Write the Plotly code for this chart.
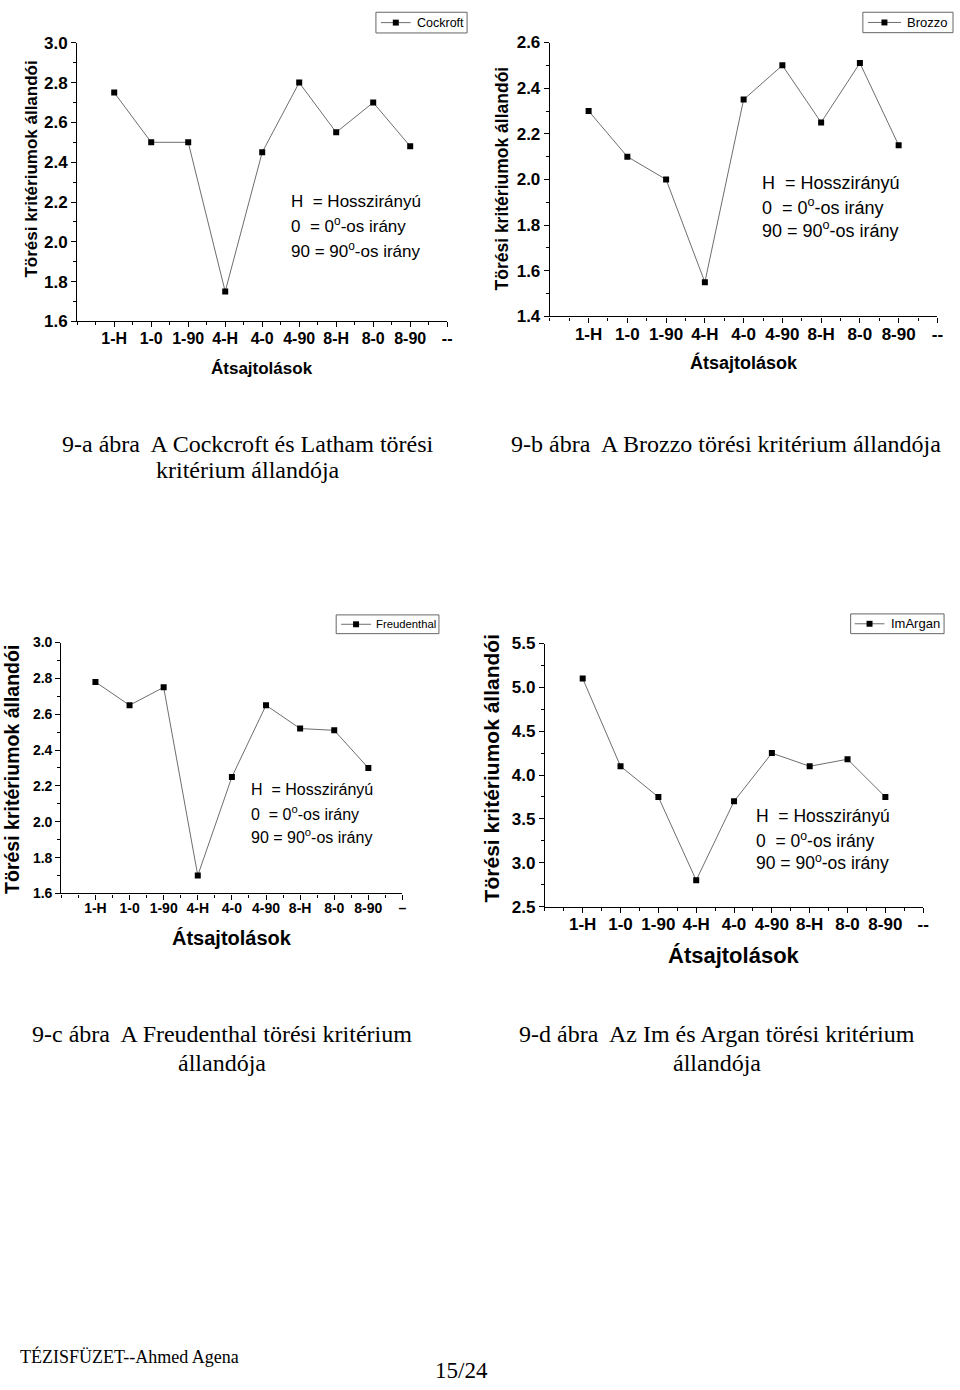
import plotly.graph_objects as go

# ---------------- data ----------------
categories = ["1-H", "1-0", "1-90", "4-H", "4-0", "4-90", "8-H", "8-0", "8-90"]
cockroft = [2.75, 2.50, 2.50, 1.75, 2.45, 2.80, 2.55, 2.70, 2.48]
brozzo = [2.30, 2.10, 2.00, 1.55, 2.35, 2.50, 2.25, 2.51, 2.15]
freudenthal = [2.78, 2.65, 2.75, 1.70, 2.25, 2.65, 2.52, 2.51, 2.30]
imargan = [5.10, 4.10, 3.75, 2.80, 3.70, 4.25, 4.10, 4.18, 3.75]
tick_labels_abd = categories + ["--"]
tick_labels_c = categories + ["–"]

W, H = 960, 1390
fig = go.Figure()

def px_x(p):
    return p / W

def px_y(p):
    return 1 - p / H

LINE_COLOR = "#6e6e6e"

panels = [
    dict(name="Cockroft", vals=cockroft, tl=tick_labels_abd, yr=[1.6, 3.0], dy=0.2, mdy=0.1,
         box=(77.7, 450, 34.3, 316.7), tf=17, xf=16, yts=17, xts=17, ytitx=32, ytity=162, xtity=364,
         leg=dict(box=(378.3, 470, 3.3, 24.3), line=(383.3, 413.3), sq=398.3, tx=417.7, fs=12.5),
         ann=(290.7, [195, 219, 244]), af=17),
    dict(name="Brozzo", vals=brozzo, tl=tick_labels_abd, yr=[1.4, 2.6], dy=0.2, mdy=0.1,
         box=(553.3, 943.3, 34, 311.7), tf=17, xf=17, yts=17.5, xts=18, ytitx=505, ytity=172, xtity=358,
         leg=dict(box=(868.3, 959, 3.3, 24), line=(873.3, 906.7), sq=890, tx=910.7, fs=13),
         ann=(764.3, [176, 200, 224]), af=18),
    dict(name="Freudenthal", vals=freudenthal, tl=tick_labels_c, yr=[1.6, 3.0], dy=0.2, mdy=0.1,
         box=(61.7, 405, 642.3, 896.7), tf=14, xf=14, yts=19.5, xts=20, ytitx=12.5, ytity=771, xtity=942,
         leg=dict(box=(338.3, 441.7, 614.3, 633.3), line=(343.3, 373.3), sq=358.3, tx=376.7, fs=11.3),
         ann=(251, [791.5, 815.5, 838]), af=16),
    dict(name="ImArgan", vals=imargan, tl=tick_labels_abd, yr=[2.5, 5.5], dy=0.5, mdy=0.25,
         box=(548.3, 929, 643.3, 910), tf=17, xf=17, yts=21, xts=22, ytitx=495, ytity=770, xtity=960,
         leg=dict(box=(856, 950, 613.3, 633.3), line=(860, 890), sq=875, tx=895, fs=13),
         ann=(759, [818, 842.7, 865.3]), af=17.5),
]

annotations = []
shapes = []
layout_axes = {}
ann_lines = ["H  = Hosszirányú", "0  = 0<sup>o</sup>-os irány", "90 = 90<sup>o</sup>-os irány"]

for i, p in enumerate(panels, start=1):
    xa = "x" if i == 1 else f"x{i}"
    ya = "y" if i == 1 else f"y{i}"
    x0, x1, yt, yb = p["box"]
    xpos = list(range(1, len(p["vals"]) + 1))
    fig.add_trace(go.Scatter(
        x=xpos, y=p["vals"], name=p["name"], mode="lines+markers",
        line=dict(color=LINE_COLOR, width=1),
        marker=dict(symbol="square", size=6, color="black"),
        xaxis=xa, yaxis=ya, showlegend=False,
    ))
    axis_common = dict(showline=True, linecolor="black", linewidth=1.2, ticks="outside",
                       tickcolor="black", showgrid=False, zeroline=False, ticklen=5, tickwidth=1)
    layout_axes["xaxis" if i == 1 else f"xaxis{i}"] = dict(
        domain=[px_x(x0), px_x(x1)], anchor=ya, range=[0, len(p["tl"])],
        tickmode="array", tickvals=list(range(1, len(p["tl"]) + 1)), ticktext=p["tl"],
        tickfont=dict(family="Liberation Sans", size=p["xf"], color="black", weight="bold"),
        ticklabelstandoff=-3,
        minor=dict(ticks="outside", ticklen=3, tickcolor="black", dtick=0.5, tick0=0),
        **axis_common)
    layout_axes["yaxis" if i == 1 else f"yaxis{i}"] = dict(
        domain=[px_y(yb), px_y(yt)], anchor=xa, range=p["yr"],
        tickmode="linear", tick0=p["yr"][0], dtick=p["dy"], tickformat=".1f",
        tickfont=dict(family="Liberation Sans", size=p["tf"], color="black", weight="bold"),
        minor=dict(ticks="outside", ticklen=3, tickcolor="black", dtick=p["mdy"], tick0=p["yr"][0]),
        **axis_common)

    # legend box drawn as a small framed key
    lg = p["leg"]
    bx0, bx1, by0, by1 = lg["box"]
    cy = (by0 + by1) / 2
    shapes.append(dict(type="rect", xref="paper", yref="paper",
                       x0=px_x(bx0), x1=px_x(bx1), y0=px_y(by1), y1=px_y(by0),
                       line=dict(color="#666", width=1), fillcolor="white"))
    shapes.append(dict(type="line", xref="paper", yref="paper",
                       x0=px_x(lg["line"][0]), x1=px_x(lg["line"][1]), y0=px_y(cy), y1=px_y(cy),
                       line=dict(color=LINE_COLOR, width=1)))
    shapes.append(dict(type="rect", xref="paper", yref="paper",
                       x0=px_x(lg["sq"] - 3), x1=px_x(lg["sq"] + 3), y0=px_y(cy + 3), y1=px_y(cy - 3),
                       line=dict(color="black", width=0), fillcolor="black"))
    annotations.append(dict(text=p["name"], xref="paper", yref="paper",
                            x=px_x(lg["tx"]), y=px_y(cy), showarrow=False,
                            xanchor="left", yanchor="middle",
                            font=dict(family="Liberation Sans", size=lg["fs"], color="black")))

    # axis titles
    annotations.append(dict(
        text="Törési kritériumok állandói", textangle=-90, xref="paper", yref="paper",
        x=px_x(p["ytitx"]), y=px_y(p["ytity"]), showarrow=False,
        font=dict(family="Liberation Sans", size=p["yts"], color="black", weight="bold"),
        xanchor="center", yanchor="middle"))
    annotations.append(dict(
        text="Átsajtolások", xref="paper", yref="paper",
        x=px_x((x0 + x1) / 2), y=px_y(p["xtity"]), showarrow=False,
        font=dict(family="Liberation Sans", size=p["xts"], color="black", weight="bold"),
        xanchor="center", yanchor="middle"))
    ax_, lys = p["ann"]
    for t, yy in zip(ann_lines, lys):
        annotations.append(dict(
            text=t, xref="paper", yref="paper", x=px_x(ax_), y=px_y(yy), showarrow=False,
            font=dict(family="Liberation Sans", size=p["af"], color="black"),
            xanchor="left", yanchor="middle"))

captions = [
    ("9-a ábra  A Cockcroft és Latham törési", 250, 441),
    ("kritérium állandója", 250, 467),
    ("9-b ábra  A Brozzo törési kritérium állandója", 731, 441),
    ("9-c ábra  A Freudenthal törési kritérium", 223, 1039),
    ("állandója", 223, 1069),
    ("9-d ábra  Az Im és Argan törési kritérium", 722, 1039),
    ("állandója", 722, 1069),
]
for t, cx, cy in captions:
    annotations.append(dict(text=t, xref="paper", yref="paper", x=px_x(cx), y=px_y(cy),
                            showarrow=False, xanchor="center", yanchor="middle",
                            font=dict(family="Liberation Serif", size=24, color="black")))
annotations.append(dict(text="TÉZISFÜZET--Ahmed Agena", xref="paper", yref="paper",
                        x=px_x(18), y=px_y(1366), showarrow=False, xanchor="left", yanchor="middle",
                        font=dict(family="Liberation Serif", size=18, color="black")))
annotations.append(dict(text="15/24", xref="paper", yref="paper",
                        x=px_x(464), y=px_y(1380), showarrow=False, xanchor="center", yanchor="middle",
                        font=dict(family="Liberation Serif", size=23, color="black")))

fig.update_layout(
    width=W, height=H, margin=dict(l=0, r=0, t=0, b=0),
    paper_bgcolor="white", plot_bgcolor="white", showlegend=False,
    annotations=annotations, shapes=shapes, **layout_axes,
)
fig.write_html("out.html")
